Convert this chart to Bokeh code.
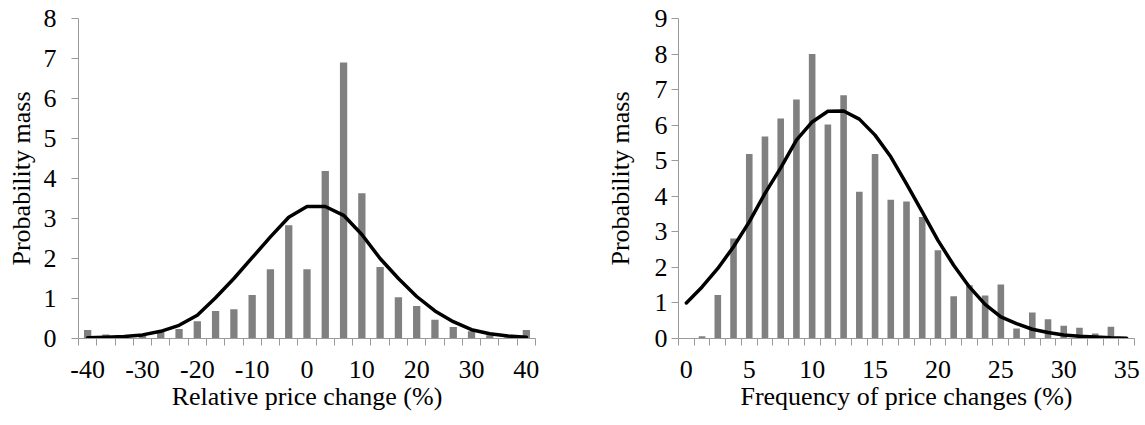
from bokeh.plotting import figure
from bokeh.layouts import row
from bokeh.models import FixedTicker, Range1d
from bokeh.embed import file_html
from bokeh.resources import INLINE

# ---------------- data ----------------
# Left panel: relative price change (%)
rel_change = [-40, -36.67, -33.33, -30, -26.67, -23.33, -20, -16.67, -13.33, -10,
              -6.67, -3.33, 0, 3.33, 6.67, 10, 13.33, 16.67, 20, 23.33,
              26.67, 30, 33.33, 36.67, 40]
rel_mass = [0.21, 0.10, 0.05, 0.07, 0.20, 0.24, 0.43, 0.69, 0.73, 1.09,
            1.73, 2.83, 1.73, 4.19, 6.90, 3.63, 1.79, 1.03, 0.81, 0.47,
            0.29, 0.18, 0.08, 0.03, 0.21]
rel_fit = [0.02, 0.03, 0.05, 0.09, 0.18, 0.33, 0.58, 1.02, 1.50, 2.02,
           2.54, 3.03, 3.30, 3.30, 3.08, 2.60, 2.00, 1.50, 1.05, 0.69,
           0.42, 0.22, 0.12, 0.06, 0.03]
rel_ticks = [-40, -30, -20, -10, 0, 10, 20, 30, 40]
rel_tick_labels = ["-40", "-30", "-20", "-10", "0", "10", "20", "30", "40"]
rel_yticks = [0, 1, 2, 3, 4, 5, 6, 7, 8]

# Right panel: frequency of price changes (%)
freq = [0, 1.25, 2.5, 3.75, 5, 6.25, 7.5, 8.75, 10, 11.25,
        12.5, 13.75, 15, 16.25, 17.5, 18.75, 20, 21.25, 22.5, 23.75,
        25, 26.25, 27.5, 28.75, 30, 31.25, 32.5, 33.75, 35]
freq_mass = [0, 0.06, 1.22, 2.81, 5.19, 5.68, 6.19, 6.72, 8.00, 6.02,
             6.84, 4.13, 5.19, 3.90, 3.85, 3.42, 2.48, 1.19, 1.50, 1.21,
             1.52, 0.28, 0.73, 0.54, 0.36, 0.30, 0.14, 0.33, 0]
freq_fit = [1.00, 1.45, 1.97, 2.58, 3.28, 4.08, 4.80, 5.58, 6.09, 6.39,
            6.40, 6.17, 5.72, 5.11, 4.35, 3.56, 2.76, 2.06, 1.45, 0.96,
            0.61, 0.42, 0.26, 0.17, 0.10, 0.06, 0.04, 0.02, 0.01]
freq_ticks = [0, 5, 10, 15, 20, 25, 30, 35]
freq_tick_labels = ["0", "5", "10", "15", "20", "25", "30", "35"]
freq_yticks = [0, 1, 2, 3, 4, 5, 6, 7, 8, 9]

FONT = "'Liberation Serif', 'Times New Roman', serif"
FS = "26px"
AXIS_COLOR = "#9a9a9a"
BAR_COLOR = "#808080"
HEIGHT = 425


def panel(xs, bars, fit, xticks, xlabels, yticks, xlabel, width, bl, br,
          ylab_standoff, yaxis_label_standoff, bar_frac):
    step = xs[1] - xs[0]
    bounds = [xs[0] - step / 2] + [(a + b) / 2 for a, b in zip(xs[:-1], xs[1:])] + [xs[-1] + step / 2]
    p = figure(width=width, height=HEIGHT, output_backend="svg", toolbar_location=None,
               x_range=Range1d(bounds[0], bounds[-1]),
               y_range=Range1d(yticks[0], yticks[-1]),
               min_border_left=bl, min_border_right=br,
               min_border_top=18, min_border_bottom=87)
    p.outline_line_color = None
    p.grid.visible = False
    p.background_fill_color = "white"
    p.border_fill_color = "white"

    p.vbar(x=xs, top=bars, width=step * bar_frac, fill_color=BAR_COLOR, line_color=None)
    p.line(xs, fit, line_color="black", line_width=3.5, line_join="round", line_cap="round")

    xa = p.xaxis[0]
    xa.ticker = FixedTicker(ticks=xticks, minor_ticks=bounds)
    xa.major_label_overrides = {t: s for t, s in zip(xticks, xlabels)}
    xa.major_tick_out = 0
    xa.major_tick_in = 0
    xa.minor_tick_out = 7
    xa.minor_tick_in = 0
    xa.minor_tick_line_color = AXIS_COLOR
    xa.axis_line_color = AXIS_COLOR
    xa.major_label_standoff = 15
    xa.major_label_text_font = FONT
    xa.major_label_text_font_size = FS
    xa.major_label_text_line_height = 1.0
    xa.major_label_text_color = "black"
    xa.axis_label = xlabel
    xa.axis_label_text_font = FONT
    xa.axis_label_text_font_size = FS
    xa.axis_label_text_line_height = 1.0
    xa.axis_label_text_font_style = "normal"
    xa.axis_label_text_color = "black"
    xa.axis_label_standoff = 1

    ya = p.yaxis[0]
    ya.ticker = FixedTicker(ticks=yticks)
    ya.major_label_overrides = {t: str(t) for t in yticks}
    ya.major_tick_out = 7
    ya.major_tick_in = 0
    ya.minor_tick_out = 0
    ya.minor_tick_in = 0
    ya.major_tick_line_color = AXIS_COLOR
    ya.axis_line_color = AXIS_COLOR
    ya.major_label_standoff = ylab_standoff
    ya.major_label_text_font = FONT
    ya.major_label_text_font_size = FS
    ya.major_label_text_color = "black"
    ya.axis_label = "Probability mass"
    ya.axis_label_text_font = FONT
    ya.axis_label_text_font_size = FS
    ya.axis_label_text_font_style = "normal"
    ya.axis_label_text_color = "black"
    ya.axis_label_standoff = yaxis_label_standoff
    return p


left = panel(rel_change, rel_mass, rel_fit, rel_ticks, rel_tick_labels, rel_yticks,
             "Relative price change (%)", 600, 78, 65, 15, 5, 0.40)
right = panel(freq, freq_mass, freq_fit, freq_ticks, freq_tick_labels, freq_yticks,
              "Frequency of price changes (%)", 545, 78, 11, 4, 17, 0.42)

layout = row(left, right)
open("out.html", "w").write(file_html(layout, INLINE))
